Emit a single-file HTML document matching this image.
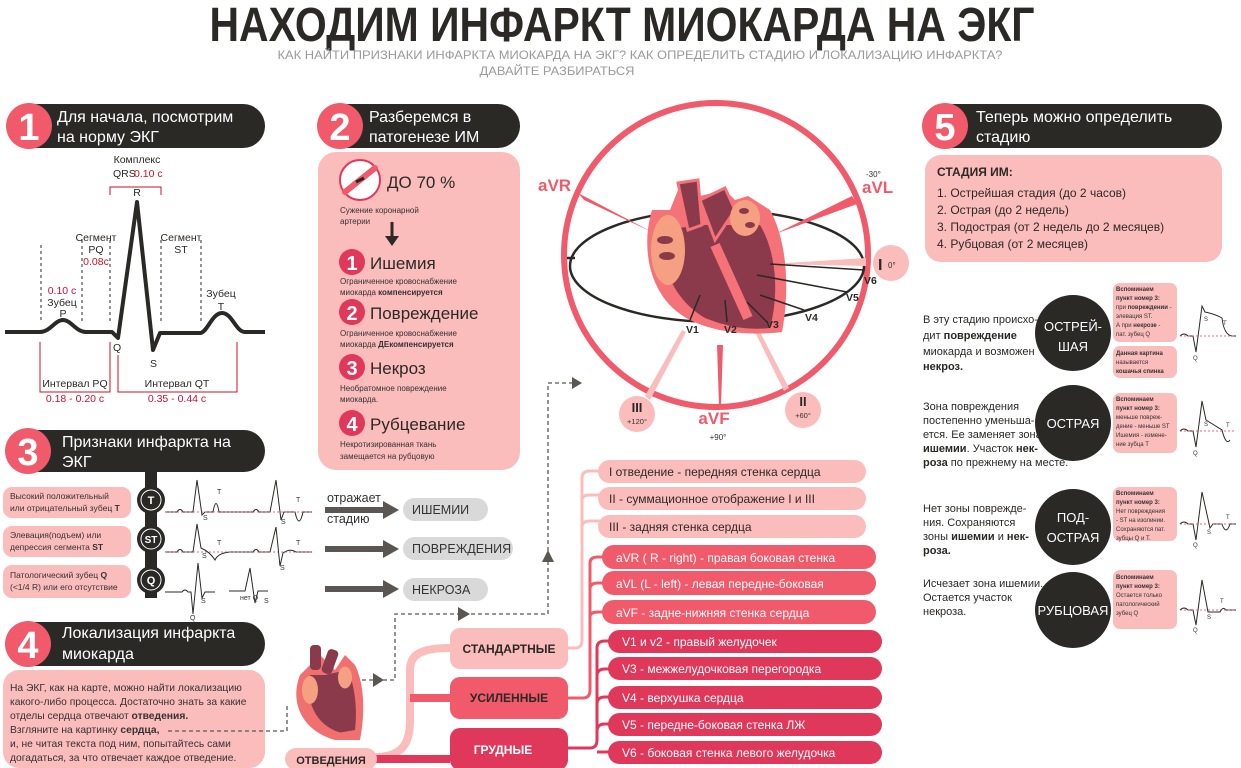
<!DOCTYPE html>
<html><head><meta charset="utf-8"><style>
html,body{margin:0;padding:0;background:#fff;}
svg{display:block;font-family:"Liberation Sans","DejaVu Sans",sans-serif;}
</style></head><body>
<svg width="1241" height="768" viewBox="0 0 1241 768" xmlns="http://www.w3.org/2000/svg">
<!-- Title -->
<text x="622" y="41" text-anchor="middle" font-size="48" font-weight="bold" fill="#2b2926" textLength="825" lengthAdjust="spacingAndGlyphs">НАХОДИМ ИНФАРКТ МИОКАРДА НА ЭКГ</text>
<text x="640" y="59" text-anchor="middle" font-size="12" fill="#9a9a9a" textLength="725" lengthAdjust="spacingAndGlyphs">КАК НАЙТИ ПРИЗНАКИ ИНФАРКТА МИОКАРДА НА ЭКГ? КАК ОПРЕДЕЛИТЬ СТАДИЮ И ЛОКАЛИЗАЦИЮ ИНФАРКТА?</text>
<text x="557" y="75" text-anchor="middle" font-size="12" fill="#9a9a9a" textLength="155" lengthAdjust="spacingAndGlyphs">ДАВАЙТЕ РАЗБИРАТЬСЯ</text>

<!-- Section headers -->
<g>
<rect x="14" y="104" width="251" height="44" rx="22" fill="#2b2926"/>
<circle cx="29" cy="126" r="23" fill="#f05a6a"/><text x="29" y="140" text-anchor="middle" font-size="38" font-weight="bold" fill="#fff">1</text>
<text x="57" y="122" font-size="16" fill="#fff">Для начала, посмотрим</text><text x="57" y="142" font-size="16" fill="#fff">на норму ЭКГ</text>

<rect x="326" y="104" width="194" height="44" rx="22" fill="#2b2926"/>
<circle cx="340" cy="126" r="23" fill="#f05a6a"/><text x="340" y="140" text-anchor="middle" font-size="38" font-weight="bold" fill="#fff">2</text>
<text x="369" y="122" font-size="16" fill="#fff">Разберемся в</text><text x="369" y="142" font-size="16" fill="#fff">патогенезе ИМ</text>

<rect x="14" y="430" width="251" height="42" rx="21" fill="#2b2926"/>
<circle cx="28" cy="451" r="23" fill="#f05a6a"/><text x="28" y="465" text-anchor="middle" font-size="38" font-weight="bold" fill="#fff">3</text>
<text x="62" y="447" font-size="16" fill="#fff">Признаки инфаркта на</text><text x="62" y="467" font-size="16" fill="#fff">ЭКГ</text>

<rect x="14" y="622" width="251" height="44" rx="22" fill="#2b2926"/>
<circle cx="28" cy="644" r="23" fill="#f05a6a"/><text x="28" y="658" text-anchor="middle" font-size="38" font-weight="bold" fill="#fff">4</text>
<text x="62" y="638" font-size="16" fill="#fff">Локализация инфаркта</text><text x="62" y="659" font-size="16" fill="#fff">миокарда</text>

<rect x="932" y="104" width="290" height="44" rx="22" fill="#2b2926"/>
<circle cx="945" cy="126" r="23" fill="#f05a6a"/><text x="945" y="140" text-anchor="middle" font-size="38" font-weight="bold" fill="#fff">5</text>
<text x="976" y="122" font-size="16" fill="#fff">Теперь можно определить</text><text x="976" y="142" font-size="16" fill="#fff">стадию</text>
</g>

<!-- Section 1 ECG -->
<g font-size="10.5" fill="#2b2926">
<g stroke="#2b2926" stroke-dasharray="3,3" stroke-width="1">
<line x1="41" y1="245" x2="41" y2="322"/><line x1="82" y1="240" x2="82" y2="322"/><line x1="110" y1="240" x2="110" y2="322"/><line x1="161" y1="240" x2="161" y2="322"/><line x1="201" y1="240" x2="201" y2="322"/>
</g>
<path d="M5 332 H40 C50 332 55 320 63 320 C71 320 76 332 86 332 H112 L118 338 L137 202 L153 350 L160 333 H200 C207 333 212 313 222 313 C232 313 236 332 245 332 H265" fill="none" stroke="#2b2926" stroke-width="4" stroke-linejoin="round"/>
<path d="M110 195 V187 H161 V195" fill="none" stroke="#c8102e" stroke-width="1"/>
<path d="M40 342 V392 H110 V342" fill="none" stroke="#c8102e" stroke-width="1"/>
<path d="M118 355 V392 H237 V342" fill="none" stroke="#c8102e" stroke-width="1"/>
<text x="137" y="163" text-anchor="middle">Комплекс</text>
<text x="113" y="177">QRS</text><text x="134" y="177" fill="#c8102e">0.10 с</text>
<text x="137" y="196" text-anchor="middle">R</text>
<text x="96" y="241" text-anchor="middle">Сегмент</text><text x="96" y="253" text-anchor="middle">PQ</text><text x="96" y="265" text-anchor="middle" fill="#c8102e">0.08с</text>
<text x="181" y="241" text-anchor="middle">Сегмент</text><text x="181" y="253" text-anchor="middle">ST</text>
<text x="62" y="294" text-anchor="middle" fill="#c8102e">0.10 с</text><text x="62" y="306" text-anchor="middle">Зубец</text><text x="63" y="317" text-anchor="middle">P</text>
<text x="221" y="297" text-anchor="middle">Зубец</text><text x="221" y="310" text-anchor="middle">T</text>
<text x="113" y="351">Q</text><text x="150" y="367">S</text>
<text x="75" y="387" text-anchor="middle">Интервал PQ</text><text x="75" y="402" text-anchor="middle" fill="#c8102e">0.18 - 0.20 с</text>
<text x="177" y="387" text-anchor="middle">Интервал QT</text><text x="177" y="402" text-anchor="middle" fill="#c8102e">0.35 - 0.44 с</text>
</g>

<!-- Section 2 box -->
<rect x="318" y="152" width="202" height="318" rx="18" fill="#fbbcbc"/>
<circle cx="360" cy="180" r="20" fill="#fff" stroke="#e0385a" stroke-width="2"/>
<path d="M345 192 L375 168" stroke="#f05a6a" stroke-width="6" stroke-linecap="round"/>
<path d="M356 182 L364 178" stroke="#2b2926" stroke-width="3"/>
<text x="387" y="188" font-size="17" fill="#2b2926">ДО 70 %</text>
<text x="340" y="213" font-size="8" fill="#333">Сужение коронарной</text><text x="340" y="224" font-size="8" fill="#333">артерии</text>
<path d="M392 222 V238" stroke="#2b2926" stroke-width="3"/><path d="M385 236 L399 236 L392 246z" fill="#2b2926"/>
<g font-size="8" fill="#333">
<circle cx="352" cy="262" r="13" fill="#e0385a"/><text x="352" y="270" text-anchor="middle" font-size="20" font-weight="bold" fill="#fff">1</text>
<text x="370" y="269" font-size="17" fill="#2b2926">Ишемия</text>
<text x="340" y="284">Ограниченное кровоснабжение</text><text x="340" y="295">миокарда <tspan font-weight="bold">компенсируется</tspan></text>
<circle cx="352" cy="312" r="13" fill="#e0385a"/><text x="352" y="320" text-anchor="middle" font-size="20" font-weight="bold" fill="#fff">2</text>
<text x="370" y="319" font-size="17" fill="#2b2926">Повреждение</text>
<text x="340" y="336">Ограниченное кровоснабжение</text><text x="340" y="347">миокарда <tspan font-weight="bold">ДЕкомпенсируется</tspan></text>
<circle cx="352" cy="367" r="13" fill="#e0385a"/><text x="352" y="375" text-anchor="middle" font-size="20" font-weight="bold" fill="#fff">3</text>
<text x="370" y="374" font-size="17" fill="#2b2926">Некроз</text>
<text x="340" y="391">Необратомное повреждение</text><text x="340" y="402">миокарда.</text>
<circle cx="352" cy="423" r="13" fill="#e0385a"/><text x="352" y="431" text-anchor="middle" font-size="20" font-weight="bold" fill="#fff">4</text>
<text x="370" y="430" font-size="17" fill="#2b2926">Рубцевание</text>
<text x="340" y="447">Некротизированная ткань</text><text x="340" y="459">замещается  на рубцовую</text>
</g>

<!-- Section 3 -->
<rect x="145" y="470" width="12" height="128" fill="#2b2926"/>
<g font-size="11" font-weight="bold" fill="#fff" text-anchor="middle">
<circle cx="151" cy="500" r="14" fill="#2b2926"/><circle cx="151" cy="500" r="10" fill="none" stroke="#fff" stroke-width="1"/><text x="151" y="504">T</text>
<circle cx="151" cy="539" r="14" fill="#2b2926"/><circle cx="151" cy="539" r="10" fill="none" stroke="#fff" stroke-width="1"/><text x="151" y="543" font-size="10">ST</text>
<circle cx="151" cy="580" r="14" fill="#2b2926"/><circle cx="151" cy="580" r="10" fill="none" stroke="#fff" stroke-width="1"/><text x="151" y="584">Q</text>
</g>
<g font-size="8.5" fill="#333">
<rect x="3" y="487" width="128" height="31" rx="9" fill="#fbbcbc"/><text x="10" y="499">Высокий положительный</text><text x="10" y="511">или отрицательный зубец <tspan font-weight="bold">T</tspan></text>
<rect x="3" y="526" width="128" height="31" rx="9" fill="#fbbcbc"/><text x="10" y="538">Элевация(подъем)  или</text><text x="10" y="550">депрессия сегмента <tspan font-weight="bold">ST</tspan></text>
<rect x="3" y="565" width="128" height="33" rx="9" fill="#fbbcbc"/><text x="10" y="578">Патологический зубец <tspan font-weight="bold">Q</tspan></text><text x="10" y="590"> (&lt;1/4 R) или его отсутствие</text>
</g>
<g fill="none" stroke="#2b2926" stroke-width="1">
<path d="M165 512 H177 Q180 507 183 512 H193 L197 480 L202 515 L205 512 H213 Q216 495 219 512 H245"/>
<path d="M241 512 H253 Q256 507 259 512 H270 L276 480 L281 520 L284 512 H295 Q299 530 303 512 H312"/>
<path d="M165 552 H177 Q180 547 183 552 H193 L197 524 L201 548 Q210 552 215 560 Q218 553 230 552 H245"/>
<path d="M241 552 H253 Q256 547 259 552 H270 L276 527 L280 566 L283 553 Q290 548 296 552 H312"/>
<path d="M165 592 H182 Q185 588 188 592 H191 L193 614 L198 563 L202 598 L205 592 H215"/>
<path d="M229 591 H245 L250 568 L255 603 L258 591 H268"/>
</g>
<g stroke="#e0385a" stroke-dasharray="2,2" stroke-width="0.8"><line x1="165" y1="512" x2="245" y2="512"/><line x1="241" y1="512" x2="312" y2="512"/><line x1="165" y1="552" x2="245" y2="552"/><line x1="241" y1="552" x2="312" y2="552"/></g>
<g font-size="7" fill="#333"><text x="217" y="494">T</text><text x="203" y="520">S</text><text x="296" y="502">T</text><text x="281" y="524">S</text><text x="202" y="558">S</text><text x="217" y="545">T</text><text x="296" y="545">T</text><text x="280" y="570">S</text><text x="190" y="620">Q</text><text x="201" y="603">S</text><text x="240" y="600">нет Q</text><text x="264" y="603">S</text></g>
<g stroke="#5a5652" stroke-width="6" fill="#5a5652">
<line x1="325" y1="510" x2="385" y2="510"/><path d="M383 501 L399 510 L383 519z" stroke="none"/>
<line x1="325" y1="549" x2="385" y2="549"/><path d="M383 540 L399 549 L383 558z" stroke="none"/>
<line x1="325" y1="589" x2="385" y2="589"/><path d="M383 580 L399 589 L383 598z" stroke="none"/>
</g>
<text x="327" y="502" font-size="12.5" fill="#333">отражает</text><text x="327" y="523" font-size="12.5" fill="#333">стадию</text>
<g font-size="12.5" fill="#333">
<rect x="403" y="498" width="85" height="23" rx="11.5" fill="#d9d9d9"/><text x="412" y="514">ИШЕМИИ</text>
<rect x="403" y="537" width="110" height="23" rx="11.5" fill="#d9d9d9"/><text x="412" y="553">ПОВРЕЖДЕНИЯ</text>
<rect x="403" y="578" width="85" height="23" rx="11.5" fill="#d9d9d9"/><text x="412" y="594">НЕКРОЗА</text>
</g>

<!-- Section 4 box -->
<rect x="3" y="670" width="262" height="98" rx="16" fill="#fbbcbc"/>
<g font-size="10.3" fill="#333">
<text x="10" y="691">На ЭКГ, как на карте, можно найти локализацию</text>
<text x="10" y="705">какого-либо процесса. Достаточно знать за какие</text>
<text x="10" y="719">отделы сердца отвечают <tspan font-weight="bold">отведения.</tspan></text>
<text x="10" y="733">Взгляните на картинку <tspan font-weight="bold">сердца,</tspan></text>
<text x="10" y="747">и, не читая текста под ним, попытайтесь сами</text>
<text x="10" y="761">догадаться, за что отвечает каждое отведение.</text>
</g>

<!-- dashed connectors -->
<g fill="none" stroke="#5a5652" stroke-width="1.3" stroke-dasharray="4,3">
<path d="M168 731 H287 V706"/>
<path d="M355 680 H395 V614 H548 V383 H572"/>
</g>
<g fill="#5a5652"><path d="M572 377 L582 383 L572 389z"/><path d="M542 562 L548 550 L554 562z"/><path d="M458 607 L470 614 L458 621z"/><path d="M373 673 L384 680 L373 687z"/></g>

<!-- small heart -->
<g transform="translate(290,640) scale(0.5)">
<path d="M20 70 C0 120 20 180 90 200 L140 200 C150 150 150 90 130 50 L110 30 L90 60 L60 30 L40 50 Z" fill="#f07070"/>
<path d="M40 70 C30 120 50 170 100 185 L130 180 C135 140 130 90 115 60 L70 70 Z" fill="#8a3a4a"/>
<rect x="40" y="10" width="22" height="50" rx="8" fill="#8a3a4a"/><rect x="70" y="18" width="22" height="50" rx="8" fill="#8a3a4a" transform="rotate(20 80 40)"/>
<ellipse cx="40" cy="100" rx="16" ry="28" fill="#f5a080"/><ellipse cx="110" cy="75" rx="14" ry="22" fill="#f5a080"/>
</g>

<!-- Heart diagram -->
<circle cx="716" cy="255" r="152" fill="none" stroke="#f05a6a" stroke-width="6"/>
<ellipse cx="717" cy="266" rx="147" ry="56" fill="none" stroke="#2b2926" stroke-width="2.5"/>
<line x1="567" y1="258" x2="575" y2="258" stroke="#2b2926" stroke-width="2.5"/>
<g fill="#f05a6a">
<path d="M578 193 L584 200 L652 232 Z"/><path d="M852 196 L857 204 L775 234 Z"/>
<path d="M717 345 L723 345 L721 405 L719 405 Z"/>
</g>
<g fill="#fbbcbc"><path d="M770 264 L866 258 L866 266 Z"/><path d="M682 330 L686 332 L650 400 L645 396 Z"/><path d="M756 334 L760 332 L789 388 L784 391 Z"/></g>
<path d="M652 210 C640 250 650 300 690 320 C720 335 760 335 782 332 C790 290 787 240 770 210 L748 196 L735 200 L725 190 L700 196 L680 185 L670 210 Z" fill="#f47278"/>
<path d="M665 230 C660 270 675 300 705 318 C730 328 750 330 770 328 C780 290 775 250 760 225 L700 225 Z" fill="#8a3a4a"/>
<path d="M678 183 L698 180 L702 225 L688 230 Z" fill="#8a3a4a" stroke="#f47278" stroke-width="3"/>
<path d="M700 200 L725 188 L735 210 L715 240 Z" fill="#8a3a4a" stroke="#f47278" stroke-width="3"/>
<ellipse cx="668" cy="250" rx="17" ry="35" fill="#f5a080"/><ellipse cx="665" cy="240" rx="8" ry="4" fill="#8a3a4a"/><ellipse cx="667" cy="256" rx="8" ry="4" fill="#8a3a4a"/>
<ellipse cx="745" cy="218" rx="15" ry="18" fill="#f5a080"/><ellipse cx="744" cy="211" rx="5" ry="3" fill="#8a3a4a"/><ellipse cx="750" cy="225" rx="5" ry="3" fill="#8a3a4a"/>
<path d="M715 245 L748 318" stroke="#f47278" stroke-width="10"/>
<g stroke="#2b2926" stroke-width="1.5"><line x1="770" y1="264" x2="864" y2="270"/><line x1="757" y1="275" x2="847" y2="292"/><line x1="760" y1="295" x2="804" y2="310"/><line x1="747" y1="302" x2="767" y2="322"/><line x1="725" y1="300" x2="727" y2="322"/><line x1="700" y1="295" x2="690" y2="320"/></g>
<g font-size="10.5" font-weight="bold" fill="#2b2926"><text x="686" y="333">V1</text><text x="724" y="333">V2</text><text x="766" y="328">V3</text><text x="805" y="321">V4</text><text x="846" y="301">V5</text><text x="864" y="284">V6</text></g>
<g font-size="17" font-weight="bold" fill="#f05a6a"><text x="538" y="191">aVR</text><text x="862" y="193">aVL</text><text x="714" y="424" text-anchor="middle">aVF</text></g>
<text x="866" y="177" font-size="8" fill="#333">-30°</text><text x="718" y="440" text-anchor="middle" font-size="8" fill="#333">+90°</text>
<circle cx="891" cy="263" r="18" fill="#fbbcbc"/><text x="878" y="270" font-size="16" font-weight="bold" fill="#2b2926">I</text><text x="888" y="268" font-size="8" fill="#333">0°</text>
<circle cx="637" cy="414" r="18" fill="#fbbcbc"/><text x="637" y="412" text-anchor="middle" font-size="13" font-weight="bold" fill="#2b2926">III</text><text x="637" y="424" text-anchor="middle" font-size="7.5" fill="#333">+120°</text>
<circle cx="803" cy="410" r="18" fill="#fbbcbc"/><text x="803" y="406" text-anchor="middle" font-size="13" font-weight="bold" fill="#2b2926">II</text><text x="803" y="418" text-anchor="middle" font-size="7.5" fill="#333">+60°</text>

<!-- Tree -->
<g fill="none" stroke-width="8">
<path d="M375 757 C405 757 410 740 410 720 V670 C410 655 420 648 450 648" stroke="#fbbcbc"/>
<path d="M410 698 H450" stroke="#f05a6a"/>
<path d="M375 759 H450" stroke="#e0385a"/>
</g>
<rect x="285" y="748" width="92" height="22" rx="11" fill="#fbbcbc"/><text x="331" y="764" text-anchor="middle" font-size="11" font-weight="bold" fill="#2b2926">ОТВЕДЕНИЯ</text>
<rect x="450" y="628" width="118" height="41" rx="10" fill="#fbbcbc"/><text x="509" y="653" text-anchor="middle" font-size="12" font-weight="bold" fill="#2b2926">СТАНДАРТНЫЕ</text>
<rect x="450" y="677" width="118" height="42" rx="10" fill="#f05a6a"/><text x="509" y="702" text-anchor="middle" font-size="12" font-weight="bold" fill="#2b2926">УСИЛЕННЫЕ</text>
<rect x="450" y="728" width="118" height="42" rx="10" fill="#e0385a"/><text x="503" y="754" text-anchor="middle" font-size="12" font-weight="bold" fill="#fff">ГРУДНЫЕ</text>
<g fill="none" stroke-width="3">
<path d="M568 648 H575 Q582 648 582 640 V478 Q582 471 590 471 H600 M582 500 Q582 495 590 495 H600 M582 527 Q582 521 590 521 H600" stroke="#fbbcbc"/>
<path d="M568 698 H583 Q590 698 590 690 V563 Q590 557 598 557 H605 M590 589 Q590 583 598 583 H605 M590 617 Q590 612 598 612 H605" stroke="#f05a6a"/>
<path d="M568 748 H590 Q597 748 597 740 V648 Q597 641 605 641 H610 M597 676 Q597 669 605 669 H610 M597 704 Q597 697 605 697 H610 M597 731 Q597 724 605 724 H610 M597 752 H610" stroke="#e0385a"/>
</g>
<g font-size="12" fill="#2b2926">
<rect x="598" y="460" width="268" height="23" rx="11.5" fill="#fbbcbc"/><text x="609" y="476">I отведение - передняя стенка сердца</text>
<rect x="598" y="487" width="268" height="23" rx="11.5" fill="#fbbcbc"/><text x="609" y="503">II - суммационное отображение I и III</text>
<rect x="598" y="515" width="268" height="23" rx="11.5" fill="#fbbcbc"/><text x="609" y="531">III - задняя стенка сердца</text>
</g>
<g font-size="12" fill="#fff">
<rect x="602" y="545" width="274" height="24" rx="12" fill="#f05a6a"/><text x="616" y="562">aVR ( R - right) - правая боковая стенка</text>
<rect x="602" y="571" width="274" height="24" rx="12" fill="#f05a6a"/><text x="616" y="588">aVL (L - left) - левая передне-боковая</text>
<rect x="602" y="600" width="274" height="24" rx="12" fill="#f05a6a"/><text x="616" y="617">aVF - задне-нижняя стенка сердца</text>
<rect x="608" y="630" width="274" height="23" rx="11.5" fill="#e0385a"/><text x="622" y="646">V1 и v2 - правый желудочек</text>
<rect x="608" y="657" width="274" height="23" rx="11.5" fill="#e0385a"/><text x="622" y="673">V3 - межжелудочковая перегородка</text>
<rect x="608" y="686" width="274" height="23" rx="11.5" fill="#e0385a"/><text x="622" y="702">V4 - верхушка сердца</text>
<rect x="608" y="713" width="274" height="23" rx="11.5" fill="#e0385a"/><text x="622" y="729">V5 - передне-боковая стенка ЛЖ</text>
<rect x="608" y="741" width="274" height="23" rx="11.5" fill="#e0385a"/><text x="622" y="757">V6 - боковая стенка левого желудочка</text>
</g>

<!-- Section 5 -->
<rect x="925" y="155" width="297" height="107" rx="16" fill="#fbbcbc"/>
<g font-size="12" fill="#2b2926">
<text x="937" y="176" font-weight="bold">СТАДИЯ ИМ:</text>
<text x="937" y="197">1. Острейшая стадия (до 2 часов)</text>
<text x="937" y="214">2. Острая (до 2 недель)</text>
<text x="937" y="231">3. Подострая (от 2 недель до 2 месяцев)</text>
<text x="937" y="248">4. Рубцовая (от 2 месяцев)</text>
</g>
<g font-size="11" fill="#2b2926">
<text x="923" y="323">В эту стадию происхо-</text><text x="923" y="339">дит <tspan font-weight="bold">повреждение</tspan></text><text x="923" y="355">миокарда и возможен</text><text x="923" y="370" font-weight="bold">некроз.</text>
<text x="923" y="410">Зона повреждения</text><text x="923" y="424">постепенно уменьша-</text><text x="923" y="438">ется. Ее заменяет зона</text><text x="923" y="452"><tspan font-weight="bold">ишемии</tspan>. Участок <tspan font-weight="bold">нек-</tspan></text><text x="923" y="466"><tspan font-weight="bold">роза</tspan> по прежнему на месте.</text>
<text x="923" y="512">Нет зоны поврежде-</text><text x="923" y="526">ния. Сохраняются</text><text x="923" y="540">зоны <tspan font-weight="bold">ишемии</tspan> и <tspan font-weight="bold">нек-</tspan></text><text x="923" y="554" font-weight="bold">роза.</text>
<text x="923" y="587">Исчезает зона ишемии.</text><text x="923" y="601">Остается участок</text><text x="923" y="615">некроза.</text>
</g>
<g fill="#2b2926"><circle cx="1073" cy="333" r="38"/><circle cx="1073" cy="423" r="38"/><circle cx="1073" cy="527" r="38"/><circle cx="1073" cy="610" r="38"/></g>
<g font-size="13" fill="#fff" text-anchor="middle">
<text x="1073" y="331">ОСТРЕЙ-</text><text x="1073" y="351">ШАЯ</text>
<text x="1073" y="428">ОСТРАЯ</text>
<text x="1073" y="522">ПОД-</text><text x="1073" y="542">ОСТРАЯ</text>
<text x="1073" y="615">РУБЦОВАЯ</text>
</g>
<g fill="#fbbcbc"><rect x="1113" y="283" width="64" height="59" rx="7"/><rect x="1113" y="346" width="64" height="32" rx="7"/><rect x="1113" y="393" width="64" height="60" rx="7"/><rect x="1113" y="487" width="64" height="54" rx="7"/><rect x="1113" y="570" width="64" height="59" rx="7"/></g>
<g font-size="6" fill="#333">
<text x="1116" y="291" font-weight="bold">Вспоминаем</text><text x="1116" y="300" font-weight="bold">пункт номер 3:</text><text x="1116" y="309">при <tspan font-weight="bold">повреждении</tspan> -</text><text x="1116" y="318">элевация ST.</text><text x="1116" y="327">А при <tspan font-weight="bold">некрозе</tspan> -</text><text x="1116" y="336">пат. зубец Q</text>
<text x="1116" y="355" font-weight="bold">Данная картина</text><text x="1116" y="364">называется</text><text x="1116" y="373" font-weight="bold">кошачья спинка</text>
<text x="1116" y="401" font-weight="bold">Вспоминаем</text><text x="1116" y="410" font-weight="bold">пункт номер 3:</text><text x="1116" y="419">меньше повреж-</text><text x="1116" y="428">дение - меньше ST</text><text x="1116" y="437">Ишемия - измене-</text><text x="1116" y="446">ние зубца Т</text>
<text x="1116" y="495" font-weight="bold">Вспоминаем</text><text x="1116" y="504" font-weight="bold">пункт номер 3:</text><text x="1116" y="513">Нет повреждения</text><text x="1116" y="522">- ST на изолинии.</text><text x="1116" y="531">Сохраняются пат.</text><text x="1116" y="540">зубцы Q и Т.</text>
<text x="1116" y="579" font-weight="bold">Вспоминаем</text><text x="1116" y="588" font-weight="bold">пункт номер 3:</text><text x="1116" y="597">Остается только</text><text x="1116" y="606">патологический</text><text x="1116" y="615">зубец Q</text>
</g>
<g fill="none" stroke="#2b2926" stroke-width="1">
<path d="M1180 336 Q1184 332 1188 336 H1193 L1196 352 L1202 306 L1205 312 Q1215 314 1222 318 Q1224 335 1232 336 H1236"/>
<path d="M1180 431 Q1184 427 1188 431 H1193 L1196 447 L1202 401 L1206 420 Q1214 425 1222 430 Q1226 446 1230 440"/>
<path d="M1180 524 Q1184 520 1188 524 H1193 L1196 540 L1202 492 L1210 528 L1213 524 H1222 Q1226 536 1230 524 H1236"/>
<path d="M1180 610 Q1184 606 1188 610 H1193 L1196 625 L1202 580 L1208 612 H1220 Q1223 606 1226 610 H1236"/>
</g>
<g stroke="#e0385a" stroke-dasharray="2,2" stroke-width="0.7"><line x1="1180" y1="336" x2="1236" y2="336"/><line x1="1180" y1="431" x2="1236" y2="431"/><line x1="1180" y1="524" x2="1236" y2="524"/><line x1="1180" y1="610" x2="1236" y2="610"/></g>
<g font-size="6" fill="#333"><text x="1193" y="360">Q</text><text x="1204" y="321">S</text><text x="1223" y="325">T</text><text x="1193" y="455">Q</text><text x="1204" y="426">S</text><text x="1226" y="427">T</text><text x="1193" y="547">Q</text><text x="1207" y="534">S</text><text x="1226" y="519">T</text><text x="1193" y="632">Q</text><text x="1207" y="619">S</text><text x="1220" y="603">T</text></g>
</svg>
</body></html>
